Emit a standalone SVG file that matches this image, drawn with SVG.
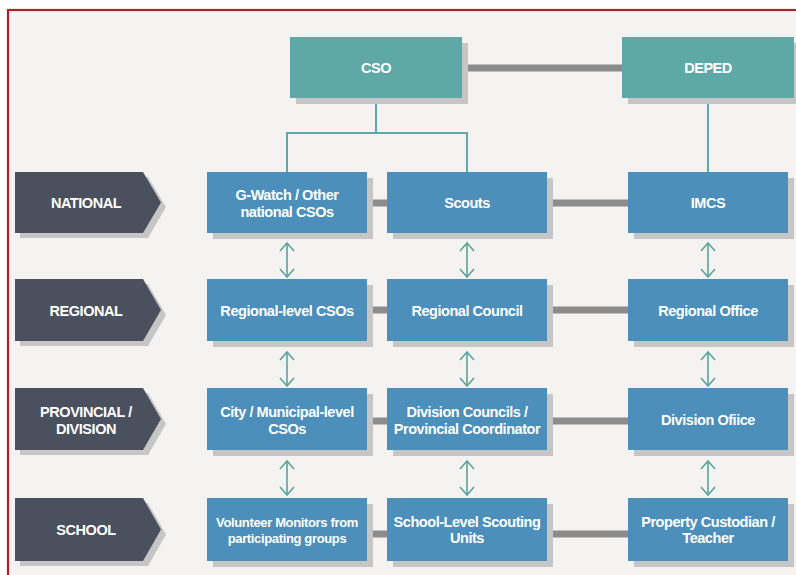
<svg xmlns="http://www.w3.org/2000/svg" width="796" height="575" viewBox="0 0 796 575">
<defs>
<style>
.tb{fill:#5fa8a8}
.bb{fill:#4c8fbb}
.lb{fill:#4a505e}
.sh{fill:#c6c6c6}
.t{font-family:"Liberation Sans",Arial,sans-serif;font-weight:bold;font-size:14.5px;letter-spacing:-0.45px;fill:#ffffff;text-anchor:middle}
.h{stroke:#8c8c8c;stroke-width:7;fill:none}
.tl{stroke:#5fa8a8;stroke-width:2;fill:none}
.ar{stroke:#5aa39c;stroke-width:1.6;fill:none;marker-start:url(#ah);marker-end:url(#ah)}
</style>
<marker id="ah" viewBox="0 0 10 16" refX="9" refY="8" markerWidth="10" markerHeight="16" markerUnits="userSpaceOnUse" orient="auto-start-reverse">
<path d="M1,1 L9,8 L1,15" fill="none" stroke="#5aa39c" stroke-width="1.6"/>
</marker>
</defs>
<rect x="0" y="0" width="796" height="575" fill="#ffffff"/>
<rect x="8" y="10" width="800" height="580" fill="#f4f3f1" stroke="#a8242b" stroke-width="2.2"/>

<g id="connectors">
<line class="h" x1="462" y1="68" x2="622" y2="68"/>
<polyline class="tl" points="376,98 376,133 287,133 287,172"/>
<polyline class="tl" points="376,133 467,133 467,172"/>
<line class="tl" x1="708" y1="98" x2="708" y2="172"/>
<line class="h" x1="367" y1="203" x2="387" y2="203"/>
<line class="h" x1="547" y1="203" x2="628" y2="203"/>
<line class="h" x1="367" y1="310" x2="387" y2="310"/>
<line class="h" x1="547" y1="310" x2="628" y2="310"/>
<line class="h" x1="367" y1="421" x2="387" y2="421"/>
<line class="h" x1="547" y1="421" x2="628" y2="421"/>
<line class="h" x1="367" y1="534" x2="387" y2="534"/>
<line class="h" x1="547" y1="534" x2="628" y2="534"/>
<line class="ar" x1="287" y1="243" x2="287" y2="277"/>
<line class="ar" x1="467" y1="243" x2="467" y2="277"/>
<line class="ar" x1="708" y1="243" x2="708" y2="277"/>
<line class="ar" x1="287" y1="352" x2="287" y2="386"/>
<line class="ar" x1="467" y1="352" x2="467" y2="386"/>
<line class="ar" x1="708" y1="352" x2="708" y2="386"/>
<line class="ar" x1="287" y1="461" x2="287" y2="495"/>
<line class="ar" x1="467" y1="461" x2="467" y2="495"/>
<line class="ar" x1="708" y1="461" x2="708" y2="495"/>
</g>

<g id="cso"><rect class="sh" x="296" y="43" width="172" height="61"/><rect class="tb" x="290" y="37" width="172" height="61"/><text class="t" x="376" y="73">CSO</text></g>
<g id="deped"><rect class="sh" x="628" y="43" width="172" height="61"/><rect class="tb" x="622" y="37" width="172" height="61"/><text class="t" x="708" y="73">DEPED</text></g>

<g id="lbl-national"><polygon class="sh" points="20,177 148,177 166,207 148,238 20,238"/><polygon class="lb" points="15,172 143,172 161,202.5 143,233 15,233"/><text class="t" x="86" y="208">NATIONAL</text></g>
<g id="lbl-regional"><polygon class="sh" points="20,284 148,284 166,315 148,346 20,346"/><polygon class="lb" points="15,279 143,279 161,310 143,341 15,341"/><text class="t" x="86" y="316">REGIONAL</text></g>
<g id="lbl-provincial"><polygon class="sh" points="20,393 148,393 166,424 148,455 20,455"/><polygon class="lb" points="15,388 143,388 161,419 143,450 15,450"/><text class="t" x="86" y="417">PROVINCIAL /</text><text class="t" x="86" y="434">DIVISION</text></g>
<g id="lbl-school"><polygon class="sh" points="20,503 148,503 166,534.5 148,566 20,566"/><polygon class="lb" points="15,498 143,498 161,529.5 143,561 15,561"/><text class="t" x="86" y="535">SCHOOL</text></g>

<g id="gwatch"><rect class="sh" x="213" y="178" width="160" height="61"/><rect class="bb" x="207" y="172" width="160" height="61"/><text class="t" x="287" y="200">G-Watch / Other</text><text class="t" x="287" y="217">national CSOs</text></g>
<g id="scouts"><rect class="sh" x="393" y="178" width="160" height="61"/><rect class="bb" x="387" y="172" width="160" height="61"/><text class="t" x="467" y="208">Scouts</text></g>
<g id="imcs"><rect class="sh" x="634" y="178" width="160" height="61"/><rect class="bb" x="628" y="172" width="160" height="61"/><text class="t" x="708" y="208">IMCS</text></g>

<g id="regional-csos"><rect class="sh" x="213" y="285" width="160" height="62"/><rect class="bb" x="207" y="279" width="160" height="62"/><text class="t" x="287" y="316">Regional-level CSOs</text></g>
<g id="regional-council"><rect class="sh" x="393" y="285" width="160" height="62"/><rect class="bb" x="387" y="279" width="160" height="62"/><text class="t" x="467" y="316">Regional Council</text></g>
<g id="regional-office"><rect class="sh" x="634" y="285" width="160" height="62"/><rect class="bb" x="628" y="279" width="160" height="62"/><text class="t" x="708" y="316">Regional Office</text></g>

<g id="city-csos"><rect class="sh" x="213" y="394" width="160" height="62"/><rect class="bb" x="207" y="388" width="160" height="62"/><text class="t" x="287" y="417">City / Municipal-level</text><text class="t" x="287" y="434">CSOs</text></g>
<g id="division-councils"><rect class="sh" x="393" y="394" width="160" height="62"/><rect class="bb" x="387" y="388" width="160" height="62"/><text class="t" x="467" y="417">Division Councils /</text><text class="t" x="467" y="434">Provincial Coordinator</text></g>
<g id="division-office"><rect class="sh" x="634" y="394" width="160" height="62"/><rect class="bb" x="628" y="388" width="160" height="62"/><text class="t" x="708" y="425">Division Ofiice</text></g>

<g id="volunteer"><rect class="sh" x="213" y="504" width="160" height="63"/><rect class="bb" x="207" y="498" width="160" height="63"/><text class="t" x="287" y="527" style="font-size:13px;letter-spacing:-0.35px">Volunteer Monitors from</text><text class="t" x="287" y="543" style="font-size:13px;letter-spacing:-0.35px">participating groups</text></g>
<g id="scouting-units"><rect class="sh" x="393" y="504" width="160" height="63"/><rect class="bb" x="387" y="498" width="160" height="63"/><text class="t" x="467" y="527">School-Level Scouting</text><text class="t" x="467" y="543">Units</text></g>
<g id="custodian"><rect class="sh" x="634" y="504" width="160" height="63"/><rect class="bb" x="628" y="498" width="160" height="63"/><text class="t" x="708" y="527">Property Custodian /</text><text class="t" x="708" y="543">Teacher</text></g>
</svg>
